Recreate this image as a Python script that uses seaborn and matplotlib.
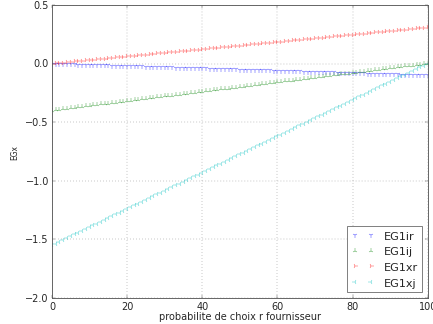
import matplotlib
matplotlib.use("Agg")
import matplotlib.pyplot as plt
import seaborn as sns

# donnees (p = 0..100)
p = list(range(0, 101))

eg1ir = [0.000, -0.001, -0.002, -0.003, -0.004, -0.005, -0.006, -0.007, -0.008, -0.009,
         -0.010, -0.011, -0.012, -0.013, -0.014, -0.015, -0.016, -0.017, -0.018, -0.019,
         -0.020, -0.021, -0.022, -0.023, -0.024, -0.025, -0.026, -0.027, -0.028, -0.029,
         -0.030, -0.031, -0.032, -0.033, -0.034, -0.035, -0.036, -0.037, -0.038, -0.039,
         -0.040, -0.041, -0.042, -0.043, -0.044, -0.045, -0.046, -0.047, -0.048, -0.049,
         -0.050, -0.051, -0.052, -0.053, -0.054, -0.055, -0.056, -0.057, -0.058, -0.059,
         -0.060, -0.061, -0.062, -0.063, -0.064, -0.065, -0.066, -0.067, -0.068, -0.069,
         -0.070, -0.071, -0.072, -0.073, -0.074, -0.075, -0.076, -0.077, -0.078, -0.079,
         -0.080, -0.081, -0.082, -0.083, -0.084, -0.085, -0.086, -0.087, -0.088, -0.089,
         -0.090, -0.091, -0.092, -0.093, -0.094, -0.095, -0.096, -0.097, -0.098, -0.099,
         -0.100]

eg1ij = [-0.400, -0.396, -0.392, -0.388, -0.384, -0.380, -0.376, -0.372, -0.368, -0.364,
         -0.360, -0.356, -0.352, -0.348, -0.344, -0.340, -0.336, -0.332, -0.328, -0.324,
         -0.320, -0.316, -0.312, -0.308, -0.304, -0.300, -0.296, -0.292, -0.288, -0.284,
         -0.280, -0.276, -0.272, -0.268, -0.264, -0.260, -0.256, -0.252, -0.248, -0.244,
         -0.240, -0.236, -0.232, -0.228, -0.224, -0.220, -0.216, -0.212, -0.208, -0.204,
         -0.200, -0.196, -0.192, -0.188, -0.184, -0.180, -0.176, -0.172, -0.168, -0.164,
         -0.160, -0.156, -0.152, -0.148, -0.144, -0.140, -0.136, -0.132, -0.128, -0.124,
         -0.120, -0.116, -0.112, -0.108, -0.104, -0.100, -0.096, -0.092, -0.088, -0.084,
         -0.080, -0.076, -0.072, -0.068, -0.064, -0.060, -0.056, -0.052, -0.048, -0.044,
         -0.040, -0.036, -0.032, -0.028, -0.024, -0.020, -0.016, -0.012, -0.008, -0.004,
         0.000]

eg1xr = [0.000, 0.003, 0.006, 0.009, 0.012, 0.015, 0.019, 0.022, 0.025, 0.028,
         0.031, 0.034, 0.037, 0.040, 0.043, 0.046, 0.050, 0.053, 0.056, 0.059,
         0.062, 0.065, 0.068, 0.071, 0.074, 0.077, 0.081, 0.084, 0.087, 0.090,
         0.093, 0.096, 0.099, 0.102, 0.105, 0.108, 0.112, 0.115, 0.118, 0.121,
         0.124, 0.127, 0.130, 0.133, 0.136, 0.139, 0.143, 0.146, 0.149, 0.152,
         0.155, 0.158, 0.161, 0.164, 0.167, 0.170, 0.174, 0.177, 0.180, 0.183,
         0.186, 0.189, 0.192, 0.195, 0.198, 0.201, 0.205, 0.208, 0.211, 0.214,
         0.217, 0.220, 0.223, 0.226, 0.229, 0.232, 0.236, 0.239, 0.242, 0.245,
         0.248, 0.251, 0.254, 0.257, 0.260, 0.263, 0.267, 0.270, 0.273, 0.276,
         0.279, 0.282, 0.285, 0.288, 0.291, 0.294, 0.298, 0.301, 0.304, 0.307,
         0.310]

eg1xj = [-1.550, -1.535, -1.519, -1.504, -1.488, -1.473, -1.457, -1.442, -1.426, -1.411,
         -1.395, -1.380, -1.364, -1.349, -1.333, -1.318, -1.302, -1.287, -1.271, -1.256,
         -1.240, -1.225, -1.209, -1.194, -1.178, -1.163, -1.147, -1.132, -1.116, -1.101,
         -1.085, -1.070, -1.054, -1.039, -1.023, -1.008, -0.992, -0.977, -0.961, -0.946,
         -0.930, -0.915, -0.899, -0.884, -0.868, -0.853, -0.837, -0.822, -0.806, -0.791,
         -0.775, -0.760, -0.744, -0.729, -0.713, -0.698, -0.682, -0.667, -0.651, -0.636,
         -0.620, -0.605, -0.589, -0.574, -0.558, -0.543, -0.527, -0.512, -0.496, -0.481,
         -0.465, -0.450, -0.434, -0.419, -0.403, -0.388, -0.372, -0.357, -0.341, -0.326,
         -0.310, -0.295, -0.279, -0.264, -0.248, -0.233, -0.217, -0.202, -0.186, -0.171,
         -0.155, -0.140, -0.124, -0.109, -0.093, -0.078, -0.062, -0.047, -0.031, -0.016,
         0.000]

series = [("EG1ir", eg1ir, "b", "1"),
          ("EG1ij", eg1ij, "g", "2"),
          ("EG1xr", eg1xr, "r", "4"),
          ("EG1xj", eg1xj, "c", "3")]

plt.style.use("classic")
sns.set_style("ticks", {"xtick.direction": "in", "ytick.direction": "in"})
plt.rcParams["font.family"] = ["DejaVu Sans"]

fig = plt.figure(figsize=(8, 6), dpi=54.125)
ax = fig.add_axes([0.120, 0.080, 0.868, 0.902])

for nom, vals, col, mk in series:
    sns.lineplot(x=p, y=vals, ax=ax, color=col, marker=mk, linestyle="",
                 markersize=7, markeredgewidth=0.6, markeredgecolor=col,
                 alpha=0.8, label=nom)

ax.set_xlim(0, 100)
ax.set_ylim(-2.0, 0.5)
ax.set_xticks([0, 20, 40, 60, 80, 100])
ax.set_yticks([-2.0, -1.5, -1.0, -0.5, 0.0, 0.5])
ax.grid(True, linestyle=":", color="0.4", linewidth=0.6)
ax.tick_params(labelsize=13, direction="in", top=True, right=True, colors="0.15")
for s in ax.spines.values():
    s.set_color("0.35")
    s.set_linewidth(1.2)

ax.set_xlabel("probabilite de choix r fournisseur", fontsize=13, labelpad=0)
ax.set_ylabel("EGx", fontsize=10, labelpad=8)
ax.legend(loc="lower right", numpoints=2, fontsize=15, fancybox=False,
          frameon=True, edgecolor="0.35", handlelength=2.0, labelspacing=0.5,
          borderaxespad=0.5)

fig.savefig("out.png", dpi=54.125)
